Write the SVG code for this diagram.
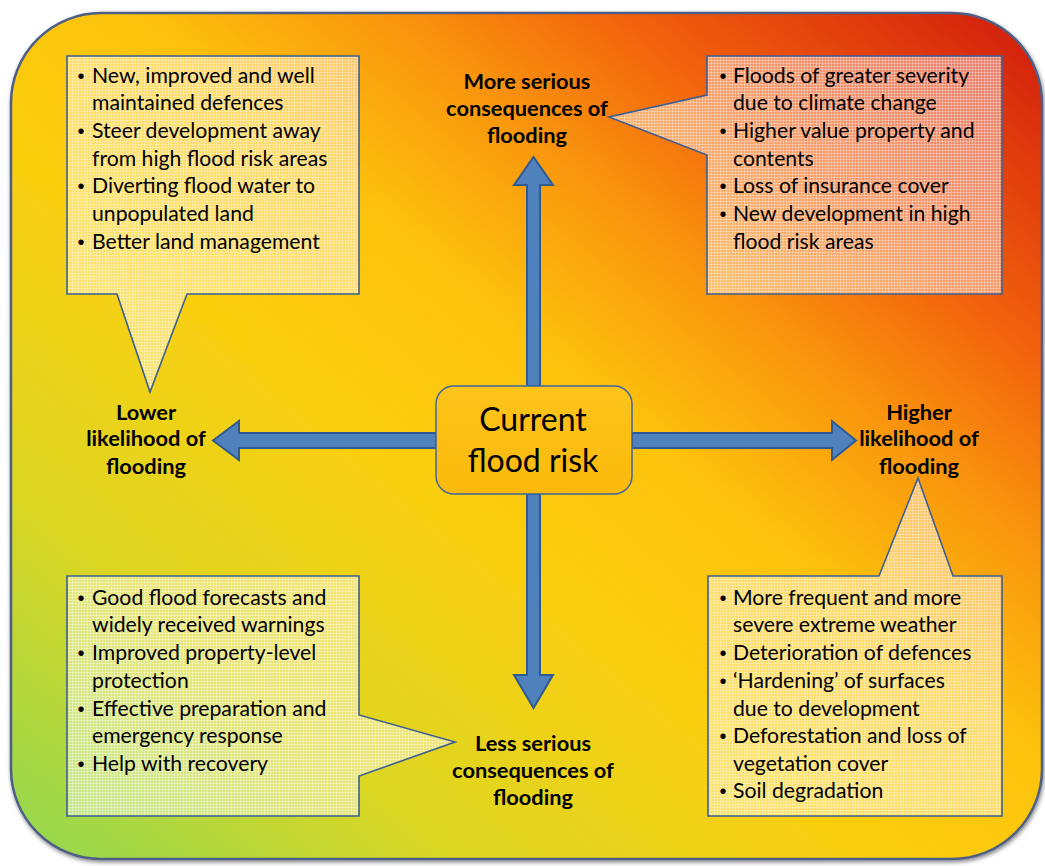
<svg xmlns="http://www.w3.org/2000/svg" width="1045" height="866" viewBox="0 0 1045 866">
<style>
.bg{stroke:#4d5e86;stroke-width:2.5}
.callout{fill:url(#grid);stroke:#3d5f92;stroke-width:1.6}
.item{font-family:Lato,"Liberation Sans",sans-serif;font-size:21.2px;fill:#000}
.bul{font-family:"Liberation Sans",sans-serif;font-size:20px;fill:#000;text-anchor:middle}
.lbl{font-family:Lato,"Liberation Sans",sans-serif;font-size:21.8px;font-weight:bold;fill:#000;text-anchor:middle}
.arrow{fill:#4f81bd;stroke:#2f5a92;stroke-width:2;stroke-linejoin:miter}
.ctext{font-family:Lato,"Liberation Sans",sans-serif;font-size:32px;fill:#000;text-anchor:middle}
</style>
<defs>
<linearGradient id="bgGrad" x1="0" y1="1" x2="1" y2="0">
<stop offset="0" stop-color="#8fd852"/>
<stop offset="0.22" stop-color="#dcd623"/>
<stop offset="0.42" stop-color="#fbcf10"/>
<stop offset="0.56" stop-color="#fdc20c"/>
<stop offset="0.68" stop-color="#f9960e"/>
<stop offset="0.8" stop-color="#f2600e"/>
<stop offset="1" stop-color="#cf1a0c"/>
</linearGradient>
<linearGradient id="centerGrad" x1="0" y1="0" x2="0" y2="1">
<stop offset="0" stop-color="#fdc41a"/>
<stop offset="1" stop-color="#fbb90c"/>
</linearGradient>
<pattern id="grid" width="3" height="3" patternUnits="userSpaceOnUse">
<rect width="3" height="3" fill="#ffffff" fill-opacity="0.38"/>
<path d="M0,0.5H3M0.5,0V3" stroke="#ffffff" stroke-opacity="0.3" stroke-width="1"/>
</pattern>
<filter id="shadow" x="-5%" y="-5%" width="110%" height="110%">
<feGaussianBlur in="SourceAlpha" stdDeviation="2"/>
<feOffset dx="1" dy="2"/>
<feComponentTransfer><feFuncA type="linear" slope="0.5"/></feComponentTransfer>
<feMerge><feMergeNode/><feMergeNode in="SourceGraphic"/></feMerge>
</filter>
</defs>

<rect id="background" class="bg" x="11" y="13" width="1031" height="846" rx="90" ry="90" fill="url(#bgGrad)" filter="url(#shadow)"/>

<g id="connectors">
<path class="arrow" d="M527,386 V185 H514 L533.5,157 L553,185 H540 V386 Z"/>
<path class="arrow" d="M527,494 V675 H514 L533.5,708 L553,675 H540 V494 Z"/>
<path class="arrow" d="M436,433 H239 V421 L213,440.5 L239,460 V448 H436 Z"/>
<path class="arrow" d="M632,433 H832 V421 L856,440.5 L832,460 V448 H632 Z"/>
</g>

<g id="center">
<rect x="436" y="386" width="196" height="108" rx="18" ry="18" fill="url(#centerGrad)" stroke="#3d66a0" stroke-width="1.5"/>
<text class="ctext" x="533" y="431">Current</text>
<text class="ctext" x="533" y="472">flood risk</text>
</g>

<g id="label-more-serious">
<text class="lbl" x="527" y="89">More serious</text>
<text class="lbl" x="527" y="116">consequences of</text>
<text class="lbl" x="527" y="143">flooding</text>
</g>
<g id="label-lower">
<text class="lbl" x="146" y="420">Lower</text>
<text class="lbl" x="146" y="446">likelihood of</text>
<text class="lbl" x="146" y="474">flooding</text>
</g>
<g id="label-higher">
<text class="lbl" x="919" y="420">Higher</text>
<text class="lbl" x="919" y="446">likelihood of</text>
<text class="lbl" x="919" y="474">flooding</text>
</g>
<g id="label-less-serious">
<text class="lbl" x="533" y="751">Less serious</text>
<text class="lbl" x="533" y="778">consequences of</text>
<text class="lbl" x="533" y="805">flooding</text>
</g>

<g id="callout-lower">
<path class="callout" d="M67,56 H359 V294 H187 L150,392 L117,294 H67 Z"/>
<text class="bul" x="81" y="83">•</text>
<text class="item" x="92" y="83">New, improved and well</text>
<text class="item" x="92" y="110">maintained defences</text>
<text class="bul" x="81" y="138">•</text>
<text class="item" x="92" y="138">Steer development away</text>
<text class="item" x="92" y="166">from high flood risk areas</text>
<text class="bul" x="81" y="193">•</text>
<text class="item" x="92" y="193">Diverting flood water to</text>
<text class="item" x="92" y="221">unpopulated land</text>
<text class="bul" x="81" y="249">•</text>
<text class="item" x="92" y="249">Better land management</text>
</g>

<g id="callout-more-serious">
<path class="callout" d="M707,56 H1002 V294 H707 V155 L609,117 L707,95 Z"/>
<text class="bul" x="723" y="83">•</text>
<text class="item" x="733" y="83">Floods of greater severity</text>
<text class="item" x="733" y="110">due to climate change</text>
<text class="bul" x="723" y="138">•</text>
<text class="item" x="733" y="138">Higher value property and</text>
<text class="item" x="733" y="166">contents</text>
<text class="bul" x="723" y="193">•</text>
<text class="item" x="733" y="193">Loss of insurance cover</text>
<text class="bul" x="723" y="221">•</text>
<text class="item" x="733" y="221">New development in high</text>
<text class="item" x="733" y="249">flood risk areas</text>
</g>

<g id="callout-less-serious">
<path class="callout" d="M67,576 H359 V715 L455,742 L359,776 V816 H67 Z"/>
<text class="bul" x="81" y="605">•</text>
<text class="item" x="92" y="605">Good flood forecasts and</text>
<text class="item" x="92" y="632">widely received warnings</text>
<text class="bul" x="81" y="660">•</text>
<text class="item" x="92" y="660">Improved property-level</text>
<text class="item" x="92" y="688">protection</text>
<text class="bul" x="81" y="716">•</text>
<text class="item" x="92" y="716">Effective preparation and</text>
<text class="item" x="92" y="743">emergency response</text>
<text class="bul" x="81" y="771">•</text>
<text class="item" x="92" y="771">Help with recovery</text>
</g>

<g id="callout-higher">
<path class="callout" d="M708,576 H879 L918,478 L953,576 H1002 V816 H708 Z"/>
<text class="bul" x="723" y="605">•</text>
<text class="item" x="733" y="605">More frequent and more</text>
<text class="item" x="733" y="632">severe extreme weather</text>
<text class="bul" x="723" y="660">•</text>
<text class="item" x="733" y="660">Deterioration of defences</text>
<text class="bul" x="723" y="688">•</text>
<text class="item" x="733" y="688">‘Hardening’ of surfaces</text>
<text class="item" x="733" y="716">due to development</text>
<text class="bul" x="723" y="743">•</text>
<text class="item" x="733" y="743">Deforestation and loss of</text>
<text class="item" x="733" y="771">vegetation cover</text>
<text class="bul" x="723" y="798">•</text>
<text class="item" x="733" y="798">Soil degradation</text>
</g>
</svg>
